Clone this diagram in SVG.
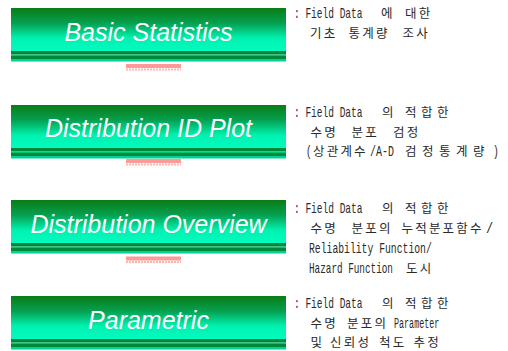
<svg xmlns="http://www.w3.org/2000/svg" width="508" height="351" viewBox="0 0 508 351">
<defs>
<linearGradient id="g" x1="0" y1="0" x2="0" y2="1">
<stop offset="0" stop-color="#0a7c16"/>
<stop offset="0.35" stop-color="#05a050"/>
<stop offset="0.7" stop-color="#00f2b0"/>
<stop offset="1" stop-color="#00fcc0"/>
</linearGradient>
<g id="box">
<rect x="0" y="0" width="275" height="43" fill="url(#g)"/>
<rect x="0" y="43" width="275" height="3.5" fill="#00883a"/>
<rect x="0" y="46.5" width="275" height="1.5" fill="#00c47a"/>
<rect x="0" y="48" width="275" height="3" fill="#00883a"/>
<rect x="0" y="51" width="275" height="2.5" fill="#00d490"/>
</g>
<g id="bar">
<rect x="0" y="0" width="55" height="4" fill="#ff9a9a"/>
<line x1="0" y1="5.5" x2="55" y2="5.5" stroke="#ffb4b4" stroke-width="2" stroke-dasharray="2 1"/>
</g>
</defs>
<style>
.t{font-family:"Liberation Sans",Arial,sans-serif;font-style:italic;font-size:25px;fill:#fff;text-anchor:middle}
.m{font-family:"Liberation Mono",monospace;font-size:15px;fill:#2a2a2a}
.k{font-family:"Noto Sans CJK KR",sans-serif;font-size:12.5px;fill:#2a2a2a;letter-spacing:2.2px}
</style>
<g id="connectors">
<use href="#bar" x="126" y="64"/>
<use href="#bar" x="126" y="159"/>
<use href="#bar" x="126" y="256.5"/>
<polygon points="152,105 156,105 154,107.5" fill="#fff"/>
<polygon points="152,200 156,200 154,202.5" fill="#fff"/>
<polygon points="152,296 156,296 154,298.5" fill="#fff"/>
</g>
<g id="node-basic">
<use href="#box" x="11" y="8"/>
<text class="t" x="148.5" y="40.5">Basic Statistics</text>
<text class="m" transform="translate(294,18) scale(0.635,1)">: Field Data</text>
<text class="k" x="381" y="18">에</text>
<text class="k" x="405" y="18">대한</text>
<text class="k" x="310" y="37.5">기초</text>
<text class="k" x="348.5" y="37.5">통계량</text>
<text class="k" x="402.5" y="37.5">조사</text>
</g>
<g id="node-idplot">
<use href="#box" x="11" y="105"/>
<text class="t" x="148.5" y="137">Distribution ID Plot</text>
<text class="m" transform="translate(294,117) scale(0.635,1)">: Field Data</text>
<text class="k" x="382" y="117">의</text>
<text class="k" x="405" y="117" style="letter-spacing:4.5px">적합한</text>
<text class="k" x="310.5" y="136.5">수명</text>
<text class="k" x="351.5" y="136.5">분포</text>
<text class="k" x="393" y="136.5">검정</text>
<text class="m" transform="translate(306,156) scale(0.635,1)">(</text>
<text class="k" x="313" y="156">상관계수</text>
<text class="m" transform="translate(370,156) scale(0.667,1)">/A-D</text>
<text class="k" x="405" y="156" style="letter-spacing:5.5px">검정통계량</text>
<text class="m" transform="translate(493,156) scale(0.635,1)">)</text>
</g>
<g id="node-overview">
<use href="#box" x="11" y="200"/>
<text class="t" x="148.5" y="232.5">Distribution Overview</text>
<text class="m" transform="translate(294,212.5) scale(0.635,1)">: Field Data</text>
<text class="k" x="382" y="212.5">의</text>
<text class="k" x="405" y="212.5" style="letter-spacing:4.5px">적합한</text>
<text class="k" x="310.5" y="232.5">수명</text>
<text class="k" x="351.5" y="232.5">분포의</text>
<text class="k" x="401.5" y="232.5">누적분포함수</text>
<text class="m" transform="translate(486,232.5) scale(0.8,1)">/</text>
<text class="m" transform="translate(309,252.5) scale(0.65,1)">Reliability Function/</text>
<text class="m" transform="translate(309,272.5) scale(0.622,1)">Hazard Function</text>
<text class="k" x="406" y="272.5">도시</text>
</g>
<g id="node-parametric">
<use href="#box" x="11" y="296"/>
<text class="t" x="148.5" y="328.5">Parametric</text>
<text class="m" transform="translate(294,307.5) scale(0.635,1)">: Field Data</text>
<text class="k" x="382" y="307.5">의</text>
<text class="k" x="405" y="307.5" style="letter-spacing:4.5px">적합한</text>
<text class="k" x="310.5" y="327.5">수명</text>
<text class="k" x="347" y="327.5">분포의</text>
<text class="m" transform="translate(394,327.5) scale(0.56,1)">Parameter</text>
<text class="k" x="310.5" y="347">및</text>
<text class="k" x="330" y="347">신뢰성</text>
<text class="k" x="379" y="347">척도</text>
<text class="k" x="413.5" y="347">추정</text>
</g>
</svg>
